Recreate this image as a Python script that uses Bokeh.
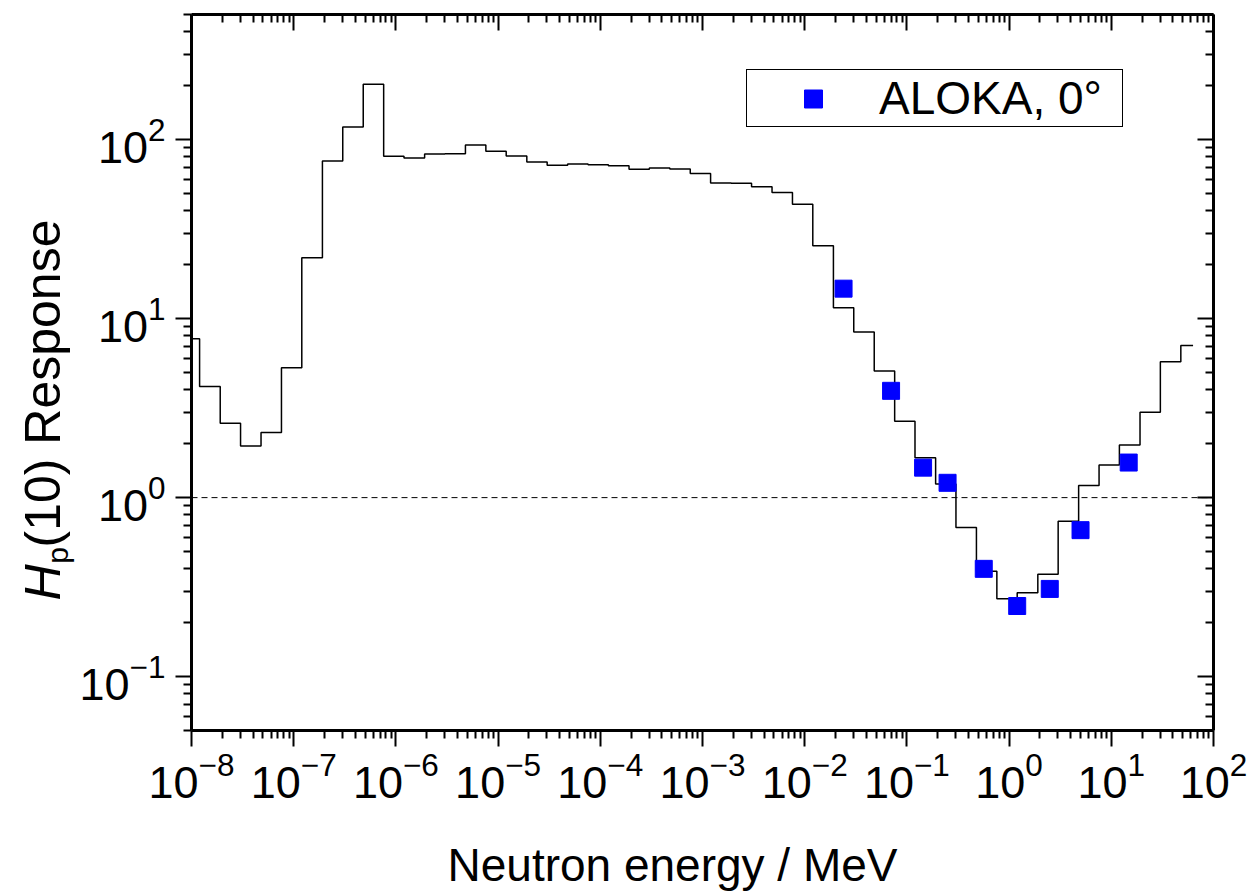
import math

from bokeh.plotting import figure
from bokeh.layouts import row, column
from bokeh.models import (Range1d, FixedTicker, LogAxis, Span, Legend,
                          LegendItem, Label)
from bokeh.embed import file_html
from bokeh.resources import INLINE

# Group boundaries of the calculated response (MeV), five groups per decade
bin_edges = [
    7.59e-9,
    1.20e-8, 1.91e-8, 3.02e-8, 4.79e-8, 7.59e-8,
    1.20e-7, 1.91e-7, 3.02e-7, 4.79e-7, 7.59e-7,
    1.20e-6, 1.91e-6, 3.02e-6, 4.79e-6, 7.59e-6,
    1.20e-5, 1.91e-5, 3.02e-5, 4.79e-5, 7.59e-5,
    1.20e-4, 1.91e-4, 3.02e-4, 4.79e-4, 7.59e-4,
    1.20e-3, 1.91e-3, 3.02e-3, 4.79e-3, 7.59e-3,
    1.20e-2, 1.91e-2, 3.02e-2, 4.79e-2, 7.59e-2,
    1.20e-1, 1.91e-1, 3.02e-1, 4.79e-1, 7.59e-1,
    1.20e0, 1.91e0, 3.02e0, 4.79e0, 7.59e0,
    1.20e1, 1.91e1, 3.02e1, 4.79e1,
    6.31e1,
]

# Calculated Hp(10) response in each group
group_response = [
    7.72, 4.18, 2.60, 1.94, 2.31, 5.31, 21.9, 75.9, 117.6, 204.0,
    80.7, 78.9, 83.0, 83.5, 93.3, 86.0, 81.0, 75.0, 71.8, 73.1,
    72.4, 71.5, 68.2, 69.3, 68.5, 64.6, 57.2, 57.0, 54.6, 50.7,
    43.6, 25.5, 11.5, 8.41, 5.09, 2.67, 1.67, 1.19, 0.68, 0.388,
    0.272, 0.294, 0.373, 0.738, 1.17, 1.52, 1.97, 3.00, 5.74, 7.08,
]

# Measured response of the ALOKA instrument at 0 degrees
aloka_energy = [0.024, 0.070, 0.144, 0.250, 0.565, 1.2, 2.5, 5.0, 14.8]
aloka_response = [14.7, 3.95, 1.47, 1.21, 0.40, 0.248, 0.309, 0.658, 1.57]

legend_label = "ALOKA, 0°"
x_title = "Neutron energy / MeV"

FONT = "Liberation Sans"

# Decade ticks with 2..9 minor ticks
x_major = [10.0 ** k for k in range(-8, 3)]
x_minor = [m * 10.0 ** k for k in range(-9, 3) for m in range(2, 10)]
y_major = [10.0 ** k for k in range(-2, 4)]
y_minor = [m * 10.0 ** k for k in range(-2, 3) for m in range(2, 10)]

TOTAL_W, TOTAL_H = 1254, 892
YLAB_W = 76      # strip holding the vertical axis title
XLAB_H = 70      # strip holding the horizontal axis title
MAIN_W = TOTAL_W - YLAB_W
MAIN_H = TOTAL_H - XLAB_H
FRAME_TOP, FRAME_BOTTOM = 14, 92       # borders above / below the frame
FRAME_LEFT, FRAME_RIGHT = 191, 41      # page-level borders left / right

p = figure(width=MAIN_W, height=MAIN_H, x_axis_type="log", y_axis_type="log",
           x_range=Range1d(1e-8, 1e2), y_range=Range1d(0.05, 500),
           output_backend="svg", toolbar_location=None, title=None,
           min_border_left=FRAME_LEFT - YLAB_W, min_border_right=FRAME_RIGHT,
           min_border_top=FRAME_TOP, min_border_bottom=FRAME_BOTTOM)
p.background_fill_color = "white"
p.border_fill_color = "white"
p.outline_line_color = None
p.xgrid.visible = False
p.ygrid.visible = False

xt = FixedTicker(ticks=x_major, minor_ticks=x_minor)
yt = FixedTicker(ticks=y_major, minor_ticks=y_minor)


def style_axis(ax, labelled):
    ax.axis_line_width = 3
    ax.axis_line_color = "black"
    ax.major_tick_line_width = 2
    ax.minor_tick_line_width = 2
    ax.major_tick_line_color = "black"
    ax.minor_tick_line_color = "black"
    if labelled:
        ax.major_tick_out = 16
        ax.major_tick_in = 0
        ax.minor_tick_out = 8
        ax.minor_tick_in = 0
        ax.major_label_text_font = FONT
        ax.major_label_text_font_size = "45px"
        ax.major_label_text_color = "black"
    else:
        ax.major_tick_out = 0
        ax.major_tick_in = 16
        ax.minor_tick_out = 0
        ax.minor_tick_in = 8
        ax.major_label_text_font_size = "1px"
        ax.major_label_text_alpha = 0
        ax.major_label_standoff = 0


p.xaxis.ticker = xt
p.yaxis.ticker = yt
style_axis(p.xaxis[0], True)
style_axis(p.yaxis[0], True)
p.xaxis.major_label_standoff = 5
p.yaxis.major_label_standoff = 10

top_axis = LogAxis(ticker=xt)
right_axis = LogAxis(ticker=yt)
style_axis(top_axis, False)
style_axis(right_axis, False)
p.add_layout(top_axis, "above")
p.add_layout(right_axis, "right")

# Reference line at unit response
p.add_layout(Span(location=1.0, dimension="width", line_color="black",
                  line_width=1, line_dash="6 4"))

# Calculated group-wise response as a histogram
p.step(x=bin_edges, y=group_response + [group_response[-1]], mode="after",
       line_color="black", line_width=1.5)

pts = p.scatter(aloka_energy, aloka_response, marker="square", size=17,
                fill_color="#0000FF", line_color="#0000FF")

legend = Legend(items=[LegendItem(label=legend_label, renderers=[pts])],
                location=(555, 603), padding=1, margin=0, spacing=0,
                glyph_width=130, glyph_height=45, label_standoff=1,
                label_width=242, label_text_font=FONT,
                label_text_font_size="46px", label_text_color="black",
                border_line_color="black", border_line_width=1.5,
                border_line_alpha=1.0,
                background_fill_color="white", background_fill_alpha=1.0)
p.add_layout(legend)


def text_strip(w, h, xr, yr, **borders):
    f = figure(width=w, height=h, x_range=Range1d(*xr), y_range=Range1d(*yr),
               output_backend="svg", toolbar_location=None, title=None,
               x_axis_location=None, y_axis_location=None, **borders)
    f.outline_line_color = None
    f.xgrid.visible = False
    f.ygrid.visible = False
    f.background_fill_color = "white"
    f.border_fill_color = "white"
    return f


# Vertical axis title: italic H, subscript p, then the rest.
# Strip frame spans the same height as the main frame (1 unit = 1 px).
frame_h = MAIN_H - FRAME_TOP - FRAME_BOTTOM
ylab = text_strip(YLAB_W, MAIN_H, (0, YLAB_W), (0, frame_h),
                  min_border_left=0, min_border_right=0,
                  min_border_top=FRAME_TOP, min_border_bottom=FRAME_BOTTOM)
ang = math.pi / 2
ylab.add_layout(Label(x=42, y=148, text="H", angle=ang, text_align="center",
                      text_baseline="middle", text_font=FONT,
                      text_font_style="italic", text_font_size="50px",
                      text_color="black"))
ylab.add_layout(Label(x=57, y=175, text="p", angle=ang, text_align="center",
                      text_baseline="middle", text_font=FONT,
                      text_font_size="30px", text_color="black"))
ylab.add_layout(Label(x=42, y=347, text="(10) Response", angle=ang,
                      text_align="center", text_baseline="middle",
                      text_font=FONT, text_font_size="50px",
                      text_color="black"))

# Horizontal axis title, strip frame aligned with the main frame
xlab = text_strip(TOTAL_W, XLAB_H, (0, TOTAL_W - FRAME_LEFT - FRAME_RIGHT),
                  (0, XLAB_H),
                  min_border_left=FRAME_LEFT, min_border_right=FRAME_RIGHT,
                  min_border_top=0, min_border_bottom=0)
xlab.add_layout(Label(x=481, y=28, text=x_title, text_align="center",
                      text_baseline="middle", text_font=FONT,
                      text_font_size="46px", text_color="black"))

layout = column(row(ylab, p, spacing=0), xlab, spacing=0)

open("out.html", "w").write(file_html(layout, INLINE))
